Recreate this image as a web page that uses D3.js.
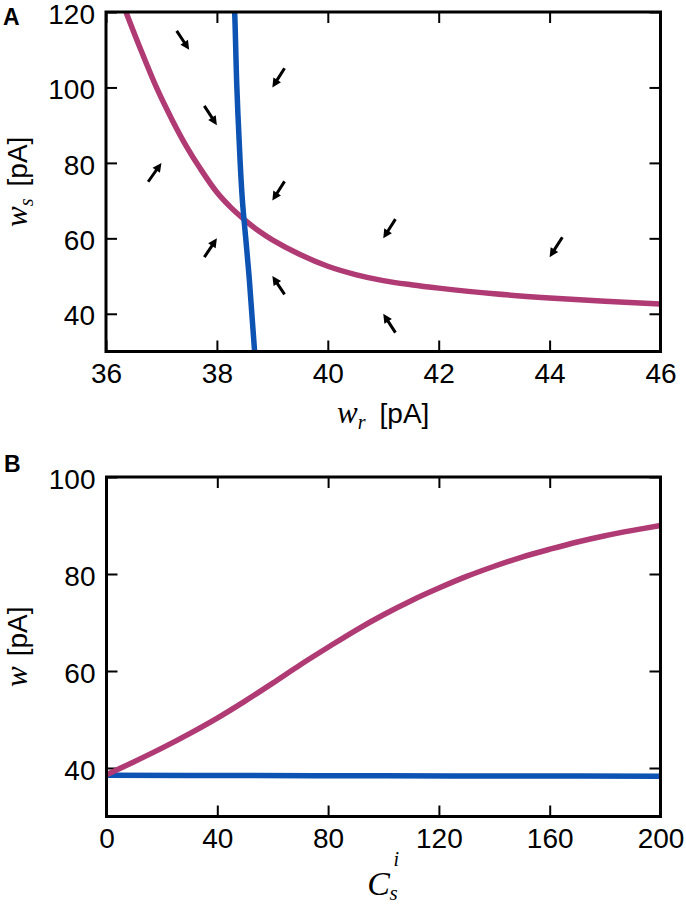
<!DOCTYPE html>
<html>
<head>
<meta charset="utf-8">
<script src="https://cdn.jsdelivr.net/npm/d3@7"></script>
<style>
  body { margin: 0; background: #fff; }
  svg { display: block; }
</style>
</head>
<body>
<div id="chart"></div>
<script>
// panel A: nullclines in the (w_r, w_s) plane
const wrTicks = [36, 38, 40, 42, 44, 46];
const wsTicks = [40, 60, 80, 100, 120];
const magentaA_wr = [36.30, 36.36, 36.6, 36.91, 37.2, 37.45, 37.7, 38.0, 38.25, 38.5, 38.75, 39.0, 39.5, 40.0, 40.5, 41.0, 41.5, 42.0, 43.0, 44.0, 45.0, 46.0, 46.3];
const magentaA_ws = [122.3, 120, 111, 100, 91.2, 84.4, 78.5, 72.2, 68.2, 64.9, 62.0, 59.6, 55.7, 52.6, 50.4, 48.8, 47.7, 46.8, 45.3, 44.2, 43.3, 42.6, 42.4];
const blueA_ws = [122, 120, 100, 80, 70, 60, 50, 40, 30, 28];
const blueA_wr = [38.31, 38.32, 38.36, 38.42, 38.46, 38.52, 38.58, 38.63, 38.68, 38.69];
// flow arrows: head position and direction (data units)
const arrowWr = [37.5, 39, 38, 37, 39, 38, 39, 41, 44, 41];
const arrowWs = [110, 100, 90, 80, 70, 60, 50, 60, 55, 40];
const arrowU = [0.225, -0.22, 0.227, 0.24, -0.22, 0.227, -0.22, -0.22, -0.23, -0.22];
const arrowV = [-5.0, -5.1, -5.1, 5.0, -5.1, 5.0, 4.85, -5.1, -5.3, 5.0];

// panel B: fixed points vs C_s^i
const cTicks = [0, 40, 80, 120, 160, 200];
const wTicks = [40, 60, 80, 100];
const magentaB_c = [0, 10, 20, 30, 40, 50, 60, 70, 80, 90, 100, 110, 120, 130, 140, 150, 160, 170, 180, 190, 200];
const magentaB_w = [38.6, 41.3, 44.1, 47.1, 50.3, 53.8, 57.5, 61.3, 64.9, 68.4, 71.6, 74.5, 77.1, 79.5, 81.6, 83.5, 85.1, 86.6, 87.9, 89.0, 90.0];
const blueB_c = [0, 50, 100, 150, 200];
const blueB_w = [38.5, 38.45, 38.4, 38.35, 38.3];

const MAGENTA = "#b03a74";
const BLUE = "#0c53b3";
const SANS = "'Liberation Sans', Arial, sans-serif";
const SERIF = "'Liberation Serif', 'DejaVu Serif', serif";

const W = 686, H = 905;
const svg = d3.select("#chart").append("svg")
    .attr("width", W)
    .attr("height", H);

function panel(opts) {
    const x = d3.scaleLinear().domain(opts.xDomain).range([opts.left, opts.right]);
    const y = d3.scaleLinear().domain(opts.yDomain).range([opts.bottom, opts.top]);
    const g = svg.append("g");

    const clipId = "clip" + opts.id;
    svg.append("clipPath").attr("id", clipId)
        .append("rect")
        .attr("x", opts.left).attr("y", opts.top)
        .attr("width", opts.right - opts.left)
        .attr("height", opts.bottom - opts.top);

    const styleAxis = (sel) => {
        sel.select(".domain").remove();
        sel.selectAll(".tick line").attr("stroke", "#000").attr("stroke-width", 2);
        sel.selectAll(".tick text")
            .attr("fill", "#000")
            .style("font-family", SANS)
            .style("font-size", "28px");
    };

    g.append("g").attr("transform", `translate(0,${opts.bottom})`)
        .call(d3.axisBottom(x).tickValues(opts.xTicks).tickSize(-11).tickPadding(12).tickFormat(d3.format("d")))
        .call(styleAxis);
    g.append("g").attr("transform", `translate(0,${opts.top})`)
        .call(d3.axisTop(x).tickValues(opts.xTicks).tickSize(-11).tickFormat(""))
        .call(styleAxis);
    g.append("g").attr("transform", `translate(${opts.left},0)`)
        .call(d3.axisLeft(y).tickValues(opts.yTicks).tickSize(-11).tickPadding(11).tickFormat(d3.format("d")))
        .call(styleAxis)
        .selectAll(".tick text").attr("dy", "0.4em");
    g.append("g").attr("transform", `translate(${opts.right},0)`)
        .call(d3.axisRight(y).tickValues(opts.yTicks).tickSize(-11).tickFormat(""))
        .call(styleAxis);

    const plot = g.append("g").attr("clip-path", `url(#${clipId})`);

    g.append("rect")
        .attr("x", opts.left).attr("y", opts.top)
        .attr("width", opts.right - opts.left)
        .attr("height", opts.bottom - opts.top)
        .attr("fill", "none")
        .attr("stroke", "#000")
        .attr("stroke-width", 3);

    return { x, y, g, plot };
}

// ---------- panel A ----------
const A = panel({
    id: "A", left: 106, right: 660.5, top: 12, bottom: 351.5,
    xDomain: [36, 46], yDomain: [30, 120], xTicks: wrTicks, yTicks: wsTicks
});

const lineA = d3.line().x(d => A.x(d[0])).y(d => A.y(d[1])).curve(d3.curveCatmullRom.alpha(0.5));
A.plot.append("path")
    .datum(d3.zip(magentaA_wr, magentaA_ws))
    .attr("d", lineA)
    .attr("fill", "none").attr("stroke", MAGENTA).attr("stroke-width", 5.5);

A.plot.append("path")
    .datum(d3.zip(blueA_wr, blueA_ws))
    .attr("d", lineA)
    .attr("fill", "none").attr("stroke", BLUE).attr("stroke-width", 5.5);

// quiver-style arrows, pivot at the tip
const arrows = arrowWr.map((wr, i) => ({ wr, ws: arrowWs[i], u: arrowU[i], v: arrowV[i] }));
A.plot.selectAll("path.arrow")
    .data(arrows)
    .enter().append("path")
    .attr("class", "arrow")
    .attr("fill", "#000")
    .attr("d", d => {
        const hx = A.x(d.wr), hy = A.y(d.ws);
        const vx = A.x(d.wr + d.u) - hx, vy = A.y(d.ws + d.v) - hy;
        const len = Math.hypot(vx, vy);
        const ux = vx / len, uy = vy / len;   // unit along arrow
        const nx = -uy, ny = ux;              // normal
        const tx = hx - vx, ty = hy - vy;     // tail
        const sw = 1.5, hw = 4.5, hl = 9;
        const bx = hx - ux * hl, by = hy - uy * hl;
        const pts = [
            [tx + nx * sw, ty + ny * sw],
            [bx + nx * sw, by + ny * sw],
            [bx + nx * hw, by + ny * hw],
            [hx, hy],
            [bx - nx * hw, by - ny * hw],
            [bx - nx * sw, by - ny * sw],
            [tx - nx * sw, ty - ny * sw]
        ];
        return "M" + pts.map(p => p.join(",")).join("L") + "Z";
    });

// labels A
const cxA = (A.x.range()[0] + A.x.range()[1]) / 2;
const cyA = (A.y.range()[0] + A.y.range()[1]) / 2;
const xlabA = svg.append("text")
    .attr("x", cxA).attr("y", 423).attr("text-anchor", "middle").attr("fill", "#000");
xlabA.append("tspan").style("font-family", SERIF).style("font-style", "italic").style("font-size", "31px").text("w");
xlabA.append("tspan").style("font-family", SERIF).style("font-style", "italic").style("font-size", "20px").attr("dy", 6).text("r");
xlabA.append("tspan").style("font-family", SANS).style("font-size", "28px").attr("dy", -6).attr("dx", 14).text("[pA]");

const ylabA = svg.append("text")
    .attr("transform", `translate(27,${cyA}) rotate(-90)`)
    .attr("text-anchor", "middle").attr("fill", "#000");
ylabA.append("tspan").style("font-family", SERIF).style("font-style", "italic").style("font-size", "31px").text("w");
ylabA.append("tspan").style("font-family", SERIF).style("font-style", "italic").style("font-size", "20px").attr("dy", 6).text("s");
ylabA.append("tspan").style("font-family", SANS).style("font-size", "28px").attr("dy", -6).attr("dx", 12).text("[pA]");

svg.append("text").attr("x", 3).attr("y", 25)
    .style("font-family", SANS).style("font-weight", "bold").style("font-size", "23px").text("A");

// ---------- panel B ----------
const B = panel({
    id: "B", left: 106.5, right: 660.5, top: 477, bottom: 816.5,
    xDomain: [0, 200], yDomain: [30, 100], xTicks: cTicks, yTicks: wTicks
});

const lineB = d3.line().x(d => B.x(d[0])).y(d => B.y(d[1])).curve(d3.curveCatmullRom.alpha(0.5));
B.plot.append("path")
    .datum(d3.zip(blueB_c, blueB_w))
    .attr("d", lineB)
    .attr("fill", "none").attr("stroke", BLUE).attr("stroke-width", 5.5);
B.plot.append("path")
    .datum(d3.zip(magentaB_c, magentaB_w))
    .attr("d", lineB)
    .attr("fill", "none").attr("stroke", MAGENTA).attr("stroke-width", 5.5);

const cxB = (B.x.range()[0] + B.x.range()[1]) / 2;
const cyB = (B.y.range()[0] + B.y.range()[1]) / 2;
svg.append("text").attr("x", cxB - 5).attr("y", 895).attr("text-anchor", "middle")
    .style("font-family", SERIF).style("font-style", "italic").style("font-size", "34px").text("C");
svg.append("text").attr("x", cxB + 10).attr("y", 866)
    .style("font-family", SERIF).style("font-style", "italic").style("font-size", "20px").text("i");
svg.append("text").attr("x", cxB + 6).attr("y", 900)
    .style("font-family", SERIF).style("font-style", "italic").style("font-size", "21px").text("s");

const ylabB = svg.append("text")
    .attr("transform", `translate(27,${cyB}) rotate(-90)`)
    .attr("text-anchor", "middle").attr("fill", "#000");
ylabB.append("tspan").style("font-family", SERIF).style("font-style", "italic").style("font-size", "31px").text("w");
ylabB.append("tspan").style("font-family", SANS).style("font-size", "28px").attr("dx", 10).text("[pA]");

svg.append("text").attr("x", 4).attr("y", 472)
    .style("font-family", SANS).style("font-weight", "bold").style("font-size", "23px").text("B");
</script>
</body>
</html>
